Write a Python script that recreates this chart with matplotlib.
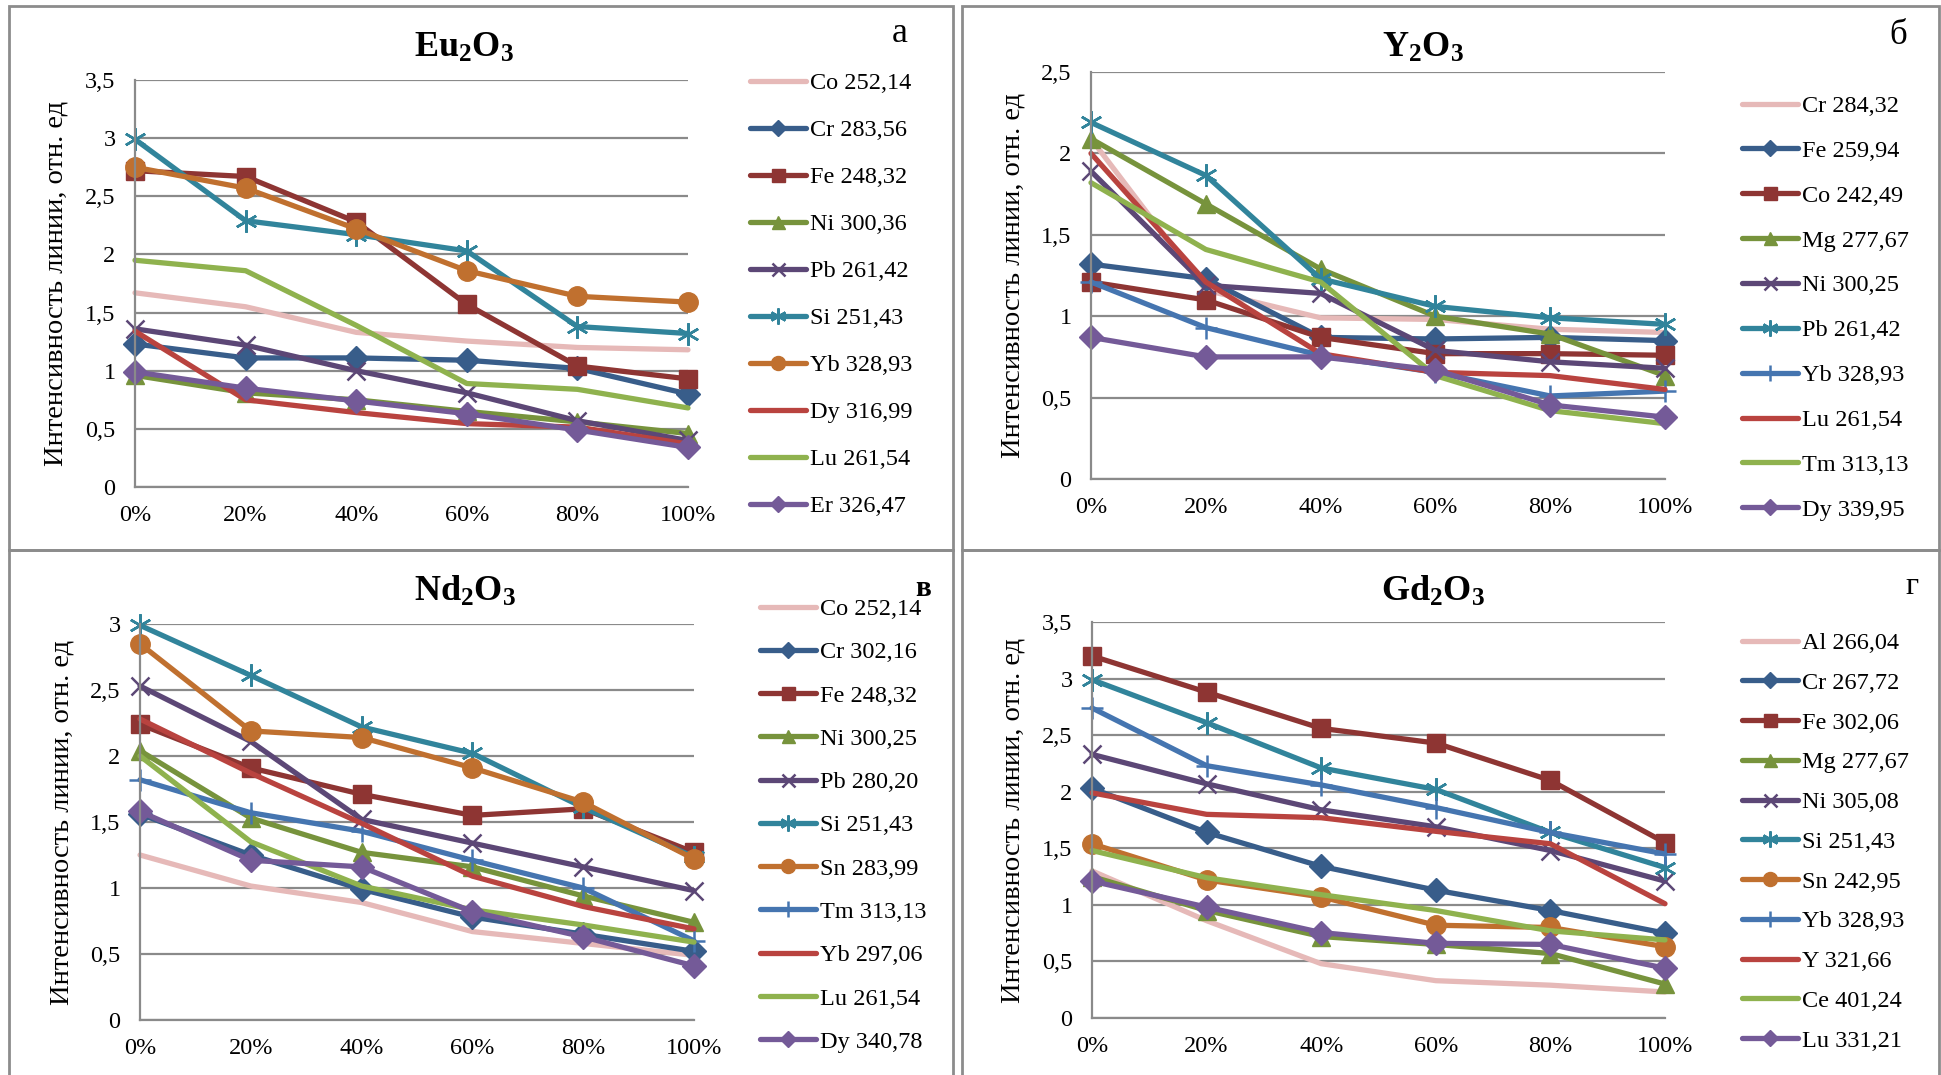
import matplotlib
matplotlib.use('Agg')
import matplotlib.pyplot as plt
from matplotlib.patches import Rectangle
from matplotlib.ticker import FuncFormatter, MultipleLocator

plt.rcParams['font.family'] = ['Liberation Serif', 'DejaVu Serif']
plt.rcParams['mathtext.fontset'] = 'custom'
plt.rcParams['mathtext.rm'] = 'Liberation Serif'
plt.rcParams['mathtext.bf'] = 'Liberation Serif:bold'
plt.rcParams['mathtext.it'] = 'Liberation Serif:italic'

# ---------------- data ----------------
conc = ['0%', '20%', '40%', '60%', '80%', '100%']

# (а) Eu2O3
eu_labels = ['Co 252,14', 'Cr 283,56', 'Fe 248,32', 'Ni 300,36', 'Pb 261,42',
             'Si 251,43', 'Yb 328,93', 'Dy 316,99', 'Lu 261,54', 'Er 326,47']
eu_values = [
    [1.67, 1.55, 1.33, 1.255, 1.20, 1.18],
    [1.23, 1.11, 1.11, 1.09, 1.02, 0.80],
    [2.72, 2.67, 2.28, 1.57, 1.04, 0.93],
    [0.96, 0.81, 0.75, 0.65, 0.56, 0.46],
    [1.36, 1.22, 1.00, 0.81, 0.57, 0.40],
    [2.99, 2.29, 2.17, 2.03, 1.38, 1.32],
    [2.75, 2.57, 2.22, 1.86, 1.64, 1.59],
    [1.34, 0.75, 0.64, 0.545, 0.515, 0.37],
    [1.95, 1.86, 1.39, 0.89, 0.84, 0.68],
    [0.99, 0.85, 0.74, 0.63, 0.49, 0.34],
]
eu_kinds = ['pink', 'dblue', 'dred', 'olive', 'purple', 'teal', 'orange',
            'red', 'lgreen', 'lpurple']

# (б) Y2O3
y_labels = ['Cr 284,32', 'Fe 259,94', 'Co 242,49', 'Mg 277,67', 'Ni 300,25',
            'Pb 261,42', 'Yb 328,93', 'Lu 261,54', 'Tm 313,13', 'Dy 339,95']
y_values = [
    [2.09, 1.16, 0.99, 0.98, 0.92, 0.90],
    [1.32, 1.23, 0.87, 0.86, 0.87, 0.85],
    [1.21, 1.10, 0.87, 0.77, 0.77, 0.76],
    [2.09, 1.69, 1.29, 1.00, 0.89, 0.635],
    [1.89, 1.19, 1.14, 0.79, 0.72, 0.68],
    [2.19, 1.865, 1.23, 1.06, 0.99, 0.95],
    [1.21, 0.93, 0.76, 0.655, 0.51, 0.54],
    [2.00, 1.21, 0.77, 0.655, 0.635, 0.55],
    [1.82, 1.41, 1.21, 0.635, 0.42, 0.34],
    [0.87, 0.75, 0.75, 0.67, 0.455, 0.38],
]
y_kinds = ['pink', 'dblue', 'dred', 'olive', 'purple', 'teal', 'blue',
           'red', 'lgreen', 'lpurple']

# (в) Nd2O3
nd_labels = ['Co 252,14', 'Cr 302,16', 'Fe 248,32', 'Ni 300,25', 'Pb 280,20',
             'Si 251,43', 'Sn 283,99', 'Tm 313,13', 'Yb 297,06', 'Lu 261,54',
             'Dy 340,78']
nd_values = [
    [1.25, 1.015, 0.89, 0.67, 0.58, 0.49],
    [1.56, 1.25, 0.99, 0.78, 0.65, 0.52],
    [2.24, 1.91, 1.71, 1.55, 1.60, 1.27],
    [2.04, 1.53, 1.27, 1.16, 0.94, 0.74],
    [2.53, 2.11, 1.52, 1.34, 1.16, 0.98],
    [2.99, 2.61, 2.22, 2.02, 1.61, 1.235],
    [2.85, 2.19, 2.14, 1.91, 1.65, 1.22],
    [1.82, 1.57, 1.43, 1.21, 1.00, 0.60],
    [2.28, 1.87, 1.49, 1.09, 0.86, 0.69],
    [2.00, 1.35, 1.015, 0.835, 0.72, 0.59],
    [1.58, 1.21, 1.16, 0.82, 0.63, 0.41],
]
nd_kinds = ['pink', 'dblue', 'dred', 'olive', 'purple', 'teal', 'orange',
            'blue', 'red', 'lgreen', 'lpurple']

# (г) Gd2O3
gd_labels = ['Al 266,04', 'Cr 267,72', 'Fe 302,06', 'Mg 277,67', 'Ni 305,08',
             'Si 251,43', 'Sn 242,95', 'Yb 328,93', 'Y 321,66', 'Ce 401,24',
             'Lu 331,21']
gd_values = [
    [1.30, 0.86, 0.48, 0.33, 0.29, 0.23],
    [2.03, 1.64, 1.34, 1.13, 0.95, 0.75],
    [3.20, 2.88, 2.56, 2.43, 2.10, 1.55],
    [1.25, 0.95, 0.72, 0.65, 0.57, 0.30],
    [2.33, 2.07, 1.84, 1.69, 1.48, 1.21],
    [2.99, 2.61, 2.21, 2.02, 1.64, 1.33],
    [1.54, 1.22, 1.07, 0.82, 0.80, 0.63],
    [2.74, 2.23, 2.06, 1.86, 1.64, 1.45],
    [1.99, 1.80, 1.77, 1.65, 1.54, 1.01],
    [1.48, 1.24, 1.09, 0.95, 0.77, 0.69],
    [1.21, 0.98, 0.755, 0.66, 0.65, 0.44],
]
gd_kinds = ['pink', 'dblue', 'dred', 'olive', 'purple', 'teal', 'orange',
            'blue', 'red', 'lgreen', 'lpurple']

# ---------------- styles ----------------
STYLE = {
    'pink':    dict(color='#E6B9B8', marker=None),
    'dblue':   dict(color='#385D8A', marker='D', ms=12),
    'dred':    dict(color='#8E3533', marker='s', ms=13),
    'olive':   dict(color='#77933C', marker='^', ms=13),
    'purple':  dict(color='#5C4776', marker='x', ms=13, mew=1.8),
    'teal':    dict(color='#31849B', marker=(6, 2, 0), ms=16, mew=1.8),
    'orange':  dict(color='#C0702F', marker='o', ms=14),
    'blue':    dict(color='#4575B0', marker='+', ms=16, mew=1.8),
    'red':     dict(color='#B9433F', marker=None),
    'lgreen':  dict(color='#8FB24E', marker=None),
    'lpurple': dict(color='#745A98', marker='D', ms=12),
}

W, H = 1941, 1075
fig = plt.figure(figsize=(W / 100, H / 100), dpi=100)
fig.patch.set_facecolor('white')

GRID = '#8A8A8A'
BORDER = '#8C8C8C'

# panel frames (pixel boxes: x0, y0, x1, y1)
for (x0, y0, x1, y1) in [(9, 6, 953, 550), (962, 6, 1939, 550),
                         (9, 550, 953, 1085), (962, 550, 1939, 1085)]:
    fig.add_artist(Rectangle((x0 / W, 1 - y1 / H), (x1 - x0) / W, (y1 - y0) / H,
                             transform=fig.transFigure, fill=False,
                             ec=BORDER, lw=2.0))


def fmt(v, pos):
    return ('%g' % round(v, 3)).replace('.', ',')


panels = [
    dict(box=(135, 80, 688, 487), ymax=3.5, labels=eu_labels, values=eu_values,
         kinds=eu_kinds, title=r'$\mathbf{Eu_2O_3}$', tpos=(464, 48),
         letter='а', lpos=(900, 34), lbold=False, lsize=26,
         leg=(750, 72), lsp=1.03, ylx=-0.121),
    dict(box=(1091, 72, 1665, 479), ymax=2.5, labels=y_labels, values=y_values,
         kinds=y_kinds, title=r'$\mathbf{Y_2O_3}$', tpos=(1423, 48),
         letter='б', lpos=(1898, 36), lbold=False, lsize=25,
         leg=(1742, 95), lsp=0.94, ylx=-0.114),
    dict(box=(140, 624, 694, 1020), ymax=3.0, labels=nd_labels, values=nd_values,
         kinds=nd_kinds, title=r'$\mathbf{Nd_2O_3}$', tpos=(465, 592),
         letter='в', lpos=(923, 589), lbold=True, lsize=21,
         leg=(760, 598), lsp=0.875, ylx=-0.119),
    dict(box=(1092, 622, 1665, 1018), ymax=3.5, labels=gd_labels, values=gd_values,
         kinds=gd_kinds, title=r'$\mathbf{Gd_2O_3}$', tpos=(1433, 592),
         letter='г', lpos=(1912, 586), lbold=False, lsize=23,
         leg=(1742, 632), lsp=0.73, ylx=-0.1155),
]

x = list(range(len(conc)))
for p in panels:
    l, t, r, b = p['box']
    ax = fig.add_axes([l / W, 1 - b / H, (r - l) / W, (b - t) / H])
    handles = []
    for lab, vals, kind in zip(p['labels'], p['values'], p['kinds']):
        st = STYLE[kind]
        kw = dict(color=st['color'], lw=3.8, solid_capstyle='round',
                  solid_joinstyle='round', clip_on=False)
        if st['marker'] is not None:
            kw.update(marker=st['marker'], ms=st['ms'],
                      mew=st.get('mew', 1.0), mec=st['color'], mfc=st['color'])
        h, = ax.plot(x, vals, label=lab, **kw)
        handles.append(h)
    ax.set_xlim(0, len(conc) - 1)
    ax.set_ylim(0, p['ymax'])
    ax.set_xticks(x)
    ax.set_xticklabels(conc)
    ax.yaxis.set_major_locator(MultipleLocator(0.5))
    ax.yaxis.set_major_formatter(FuncFormatter(fmt))
    ax.grid(axis='y', color=GRID, lw=1.6)
    ax.set_axisbelow(True)
    for s in ['top', 'right']:
        ax.spines[s].set_visible(False)
    for s in ['left', 'bottom']:
        ax.spines[s].set_color(GRID)
        ax.spines[s].set_linewidth(1.6)
    ax.tick_params(axis='both', length=0, labelsize=17.5, colors='black')
    ax.tick_params(axis='x', pad=13)
    ax.tick_params(axis='y', pad=14)
    ax.set_ylabel('Интенсивность линии, отн. ед', fontsize=20.5)
    ax.yaxis.set_label_coords(p['ylx'], 0.5)

    fig.text(p['tpos'][0] / W, 1 - p['tpos'][1] / H, p['title'],
             fontsize=26, ha='center', va='center')
    fig.text(p['lpos'][0] / W, 1 - p['lpos'][1] / H, p['letter'],
             fontsize=p['lsize'], ha='center', va='center',
             fontweight='bold' if p['lbold'] else 'normal')

    ax.legend(handles=handles, loc='upper left',
              bbox_to_anchor=(p['leg'][0] / W, 1 - p['leg'][1] / H),
              bbox_transform=fig.transFigure, frameon=False, fontsize=17.5,
              handlelength=2.3, handletextpad=0.15, labelspacing=p['lsp'],
              borderpad=0, borderaxespad=0, markerscale=0.72)

fig.savefig('out.png', dpi=100, facecolor='white')
